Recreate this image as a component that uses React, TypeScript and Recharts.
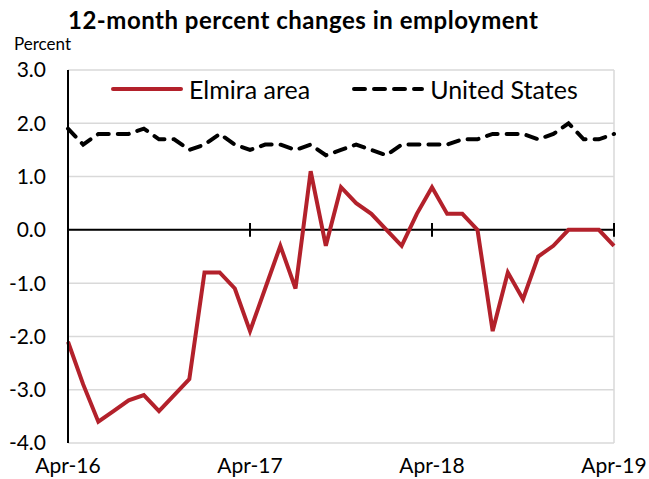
import { LineChart, Line, XAxis, YAxis, CartesianGrid, ReferenceLine, Legend } from 'recharts'

const months = [
  'Apr-16', 'May-16', 'Jun-16', 'Jul-16', 'Aug-16', 'Sep-16', 'Oct-16', 'Nov-16', 'Dec-16',
  'Jan-17', 'Feb-17', 'Mar-17', 'Apr-17', 'May-17', 'Jun-17', 'Jul-17', 'Aug-17', 'Sep-17',
  'Oct-17', 'Nov-17', 'Dec-17', 'Jan-18', 'Feb-18', 'Mar-18', 'Apr-18', 'May-18', 'Jun-18',
  'Jul-18', 'Aug-18', 'Sep-18', 'Oct-18', 'Nov-18', 'Dec-18', 'Jan-19', 'Feb-19', 'Mar-19', 'Apr-19',
]

const elmira = [
  -2.1, -2.9, -3.6, -3.4, -3.2, -3.1, -3.4, -3.1, -2.8,
  -0.8, -0.8, -1.1, -1.9, -1.1, -0.3, -1.1, 1.1, -0.3,
  0.8, 0.5, 0.3, 0.0, -0.3, 0.3, 0.8, 0.3, 0.3,
  0.0, -1.9, -0.8, -1.3, -0.5, -0.3, 0.0, 0.0, 0.0, -0.3,
]

const unitedStates = [
  1.9, 1.6, 1.8, 1.8, 1.8, 1.9, 1.7, 1.7, 1.5,
  1.6, 1.8, 1.6, 1.5, 1.6, 1.6, 1.5, 1.6, 1.4,
  1.5, 1.6, 1.5, 1.4, 1.6, 1.6, 1.6, 1.6, 1.7,
  1.7, 1.8, 1.8, 1.8, 1.7, 1.8, 2.0, 1.7, 1.7, 1.8,
]

const xTicks = ['Apr-16', 'Apr-17', 'Apr-18', 'Apr-19']
const yTicks = [-4, -3, -2, -1, 0, 1, 2, 3]

const RED = '#b3212b'
const GRID = '#d9d9d9'
const FONT = 'Lato, "Noto Sans", sans-serif'

const data = months.map((month, i) => ({
  month,
  elmira: elmira[i],
  us: unitedStates[i],
}))

function LegendContent({ payload }: any) {
  return (
    <div style={{ display: 'flex', alignItems: 'center', fontFamily: FONT, fontSize: 25, color: '#000', lineHeight: '30px' }}>
      {(payload || []).map((entry: any, i: number) => (
        <div key={entry.value} style={{ display: 'flex', alignItems: 'center', marginLeft: i === 0 ? 0 : 41 }}>
          <svg width={74} height={12}>
            <line
              x1={3}
              y1={6}
              x2={71}
              y2={6}
              stroke={entry.color}
              strokeWidth={4}
              strokeLinecap="round"
              strokeDasharray={entry.payload?.strokeDasharray}
            />
          </svg>
          <span style={{ marginLeft: 5 }}>{entry.value}</span>
        </div>
      ))}
    </div>
  )
}

export default function App() {
  return (
    <div style={{ position: 'absolute', left: 0, top: 0, width: 649, height: 479, background: '#fff' }}>
      <div style={{ position: 'absolute', left: 68, top: 5, fontFamily: FONT, fontWeight: 'bold', fontSize: 24, letterSpacing: 0.5, color: '#000', whiteSpace: 'nowrap' }}>
        12-month percent changes in employment
      </div>
      <div style={{ position: 'absolute', left: 14, top: 33, fontFamily: FONT, fontSize: 17, color: '#000' }}>
        Percent
      </div>
      <LineChart width={649} height={479} data={data} margin={{ top: 70, right: 35, left: 8, bottom: 6 }}>
        <CartesianGrid vertical={false} stroke={GRID} strokeWidth={1.5} />
        <ReferenceLine x="Apr-19" stroke={GRID} strokeWidth={1.5} />
        <XAxis
          dataKey="month"
          ticks={xTicks}
          interval={0}
          axisLine={false}
          tickLine={false}
          tickSize={0}
          tickMargin={15}
          height={30}
          tick={{ fill: '#000', fontSize: 21, fontFamily: FONT }}
        />
        <YAxis
          domain={[-4, 3]}
          ticks={yTicks}
          interval={0}
          width={60}
          axisLine={{ stroke: '#000', strokeWidth: 2 }}
          tickLine={false}
          tickSize={0}
          tickMargin={22}
          tickFormatter={(v: number) => v.toFixed(1)}
          tick={{ fill: '#000', fontSize: 21, fontFamily: FONT }}
        />
        <ReferenceLine y={0} stroke="#000" strokeWidth={2} />
        {xTicks.map((t) => (
          <ReferenceLine
            key={t}
            segment={[{ x: t, y: -0.13 }, { x: t, y: 0.13 }]}
            stroke="#000"
            strokeWidth={2}
          />
        ))}
        <Legend
          verticalAlign="middle"
          align="center"
          content={<LegendContent />}
          wrapperStyle={{ position: 'absolute', top: 74, left: 110, width: 520 }}
        />
        <Line
          name="Elmira area"
          dataKey="elmira"
          stroke={RED}
          strokeWidth={4}
          dot={false}
          type="linear"
          isAnimationActive={false}
        />
        <Line
          name="United States"
          dataKey="us"
          stroke="#000"
          strokeWidth={4}
          strokeDasharray="11 9"
          strokeLinecap="round"
          dot={false}
          type="linear"
          isAnimationActive={false}
        />
      </LineChart>
    </div>
  )
}
